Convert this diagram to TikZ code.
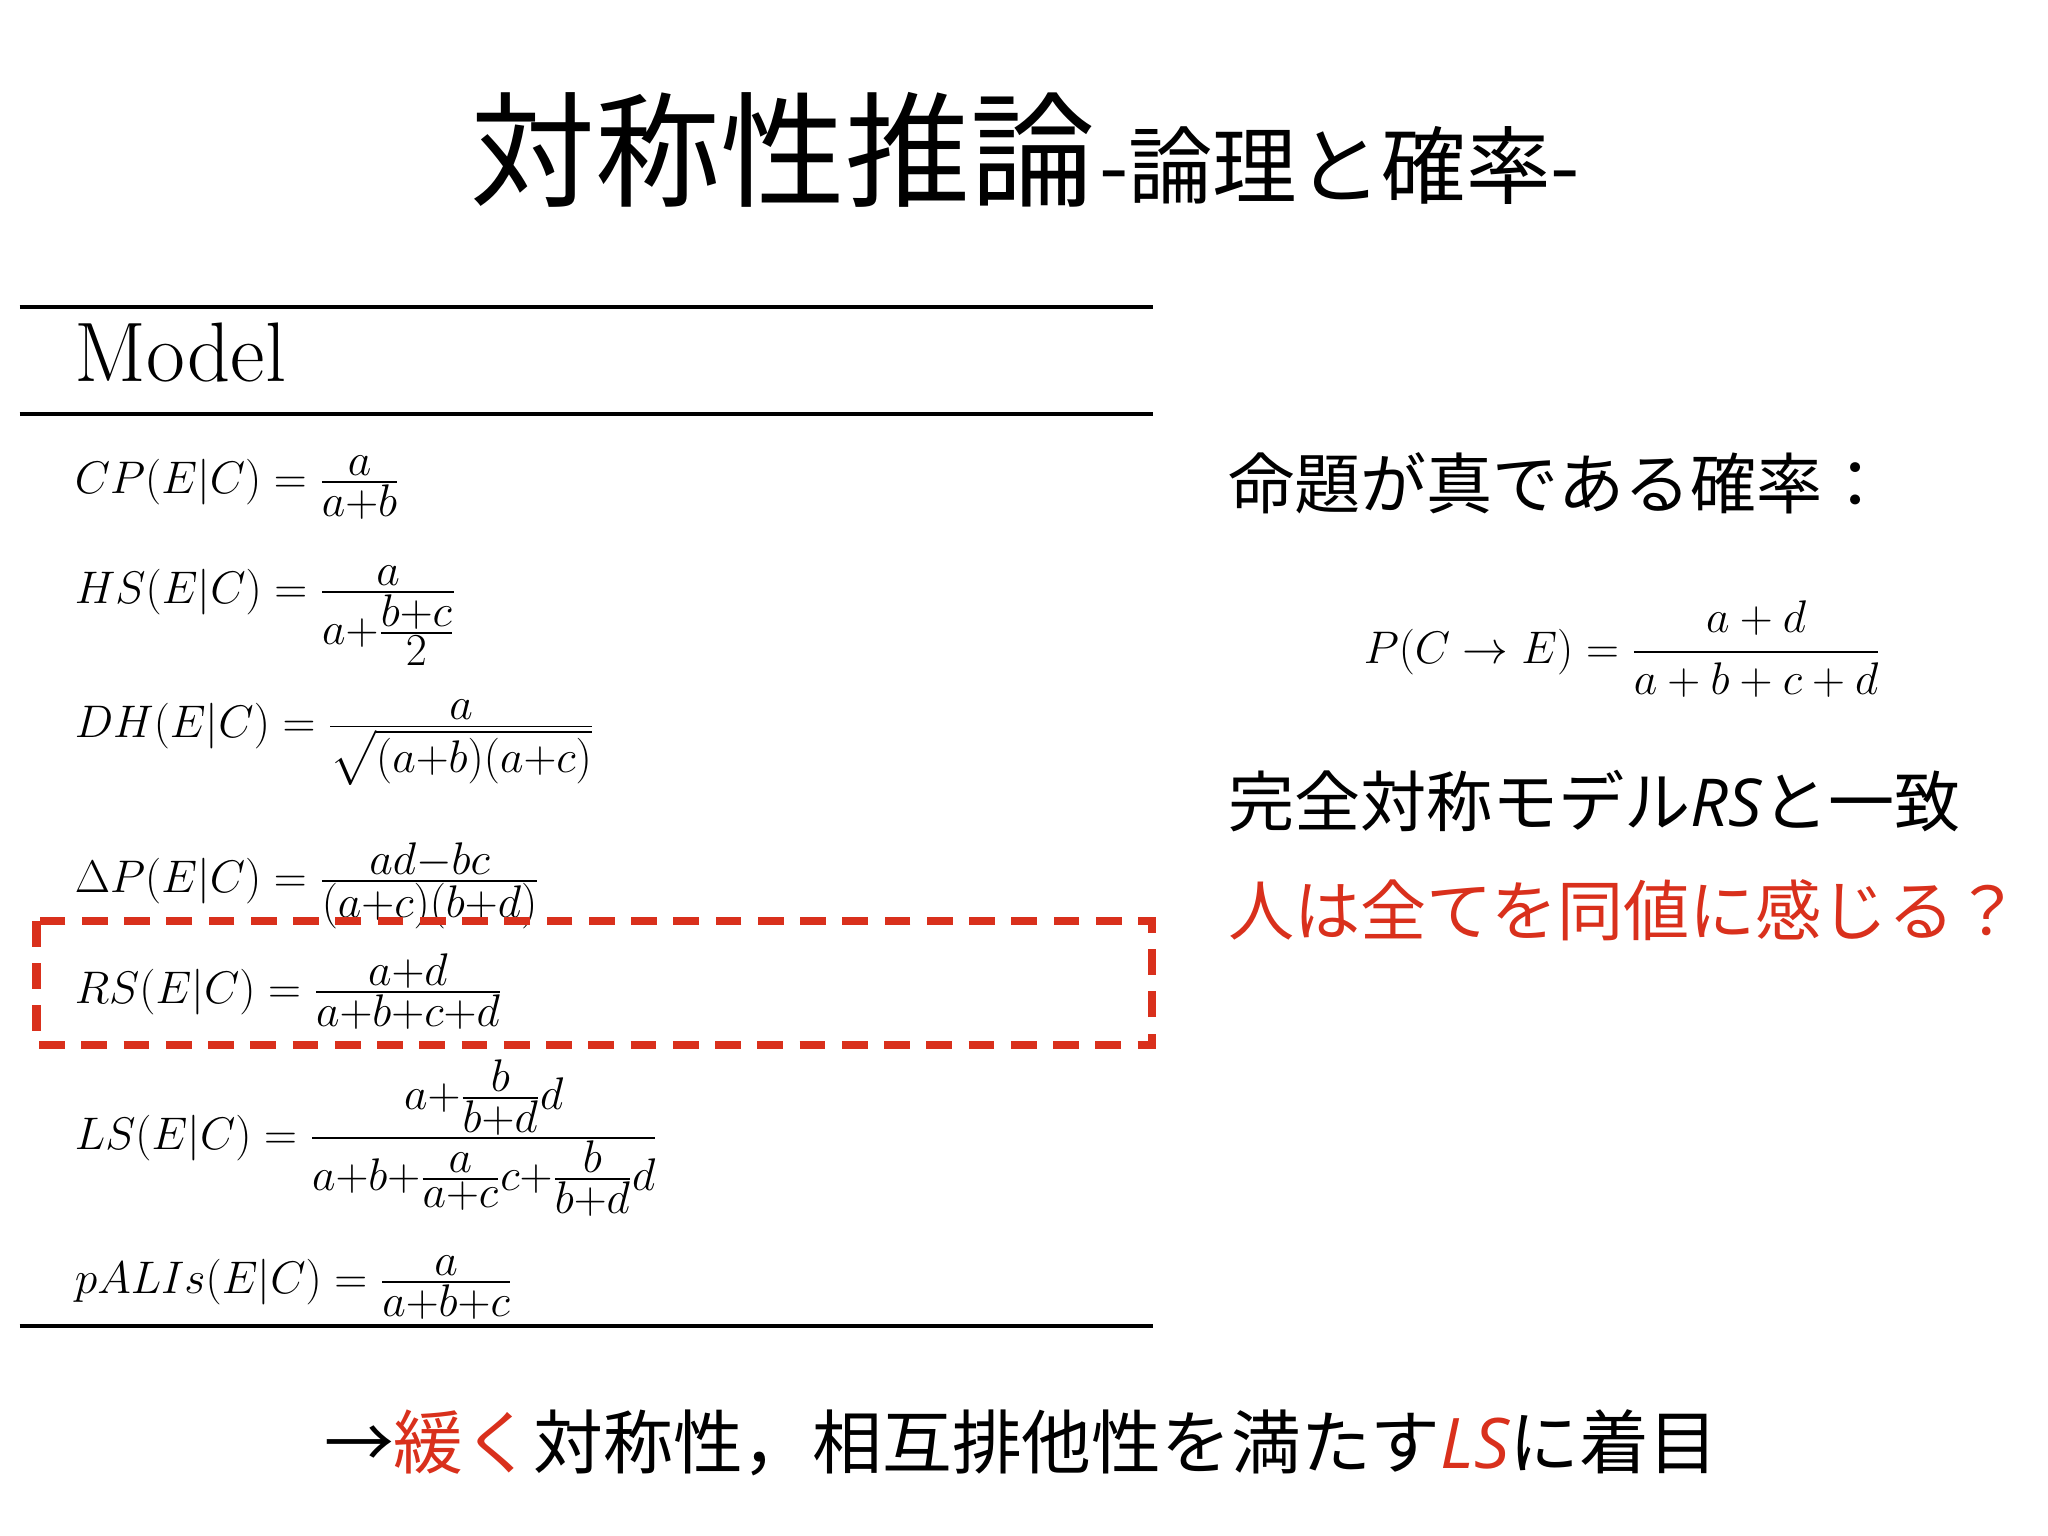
\documentclass[tikz,border=0pt]{standalone}
\usepackage{fontspec}
\usepackage{amsmath}
\newfontfamily\cjk{Noto Sans CJK JP}
\newfontfamily\osit{Open Sans}
\definecolor{myred}{HTML}{D9301C}
\begin{document}
\begin{tikzpicture}[x=0.025cm,y=-0.025cm,
  fm/.style={anchor=base west,inner sep=0pt,font=\fontsize{46}{50}\selectfont},
  rule/.style={line width=2.2pt},
  jp/.style={inner sep=0pt,font=\cjk\fontsize{36}{40}\selectfont}]
\useasboundingbox (0,0) rectangle (1568,1176);
\node[inner sep=0pt,font=\cjk] (title) at (785,115) {{\fontsize{68}{72}\selectfont 対称性推論} {\fontsize{46}{50}\selectfont -論理と確率-}};
\draw[rule] (15,235) coordinate (t1) -- (883,235) coordinate (t2);
\draw[rule] (15,317) coordinate (m1) -- (883,317) coordinate (m2);
\draw[rule] (15,1015) coordinate (b1) -- (883,1015) coordinate (b2);
\node[fm] (model) at (57,292) {Model};
\node[fm] (cp) at (57,378) {$CP(E|C)=\frac{a}{a+b}$};
\node[fm] (hs) at (57,462) {$HS(E|C)=\frac{a}{a+\frac{b+c}{2}}$};
\node[fm] (dh) at (57,565) {$DH(E|C)=\frac{a}{\sqrt{(a+b)(a+c)}}$};
\node[fm] (dp) at (57,683) {$\Delta P(E|C)=\frac{ad-bc}{(a+c)(b+d)}$};
\node[fm] (rs) at (57,768) {$RS(E|C)=\frac{a+d}{a+b+c+d}$};
\node[fm] (ls) at (57,880) {$LS(E|C)=\frac{a+\frac{b}{b+d}d}{a+b+\frac{a}{a+c}c+\frac{b}{b+d}d}$};
\node[fm] (pa) at (57,990) {$pALIs(E|C)=\frac{a}{a+b+c}$};
\draw[myred,line width=4.5pt,dash pattern=on 14pt off 9pt] (28,705) rectangle (882,800);
\node[jp,anchor=west] (q) at (940,370) {命題が真である確率：};
\node[inner sep=0pt,font=\fontsize{40}{44}\selectfont] (pf) at (1242,497) {$\displaystyle P(C\rightarrow E)=\frac{a+d}{a+b+c+d}$};
\node[jp,anchor=west] (rsj) at (940,613) {完全対称モデル{\osit\itshape RS}と一致};
\node[jp,anchor=west,text=myred] (hq) at (940,697) {人は全てを同値に感じる？};
\node[jp,font=\cjk\fontsize{38}{42}\selectfont] (bot) at (782,1105) {→{\color{myred}緩く}対称性，相互排他性を満たす{\color{myred}\osit\itshape LS}に着目};
\end{tikzpicture}
\end{document}
